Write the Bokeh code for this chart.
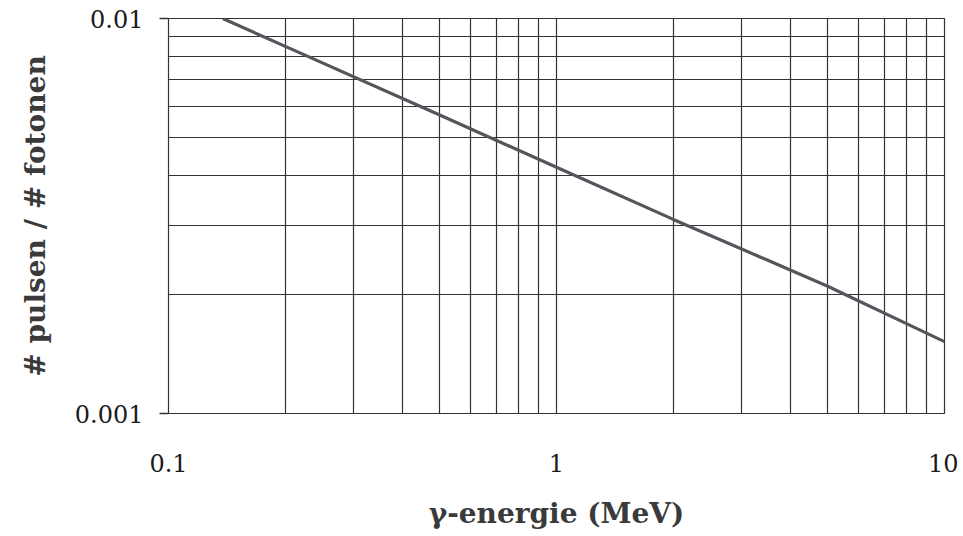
from bokeh.plotting import figure
from bokeh.models import FixedTicker, CustomJSTickFormatter
from bokeh.embed import file_html
from bokeh.resources import INLINE

# data
energy_mev = [0.138, 0.2, 0.5, 1, 2, 5, 10]
ratio = [0.01, 0.0085, 0.0057, 0.0042, 0.0031, 0.0021, 0.00152]

x_major = [0.1, 1, 10]
y_major = [0.001, 0.01]
x_grid = [0.1, 0.2, 0.3, 0.4, 0.5, 0.6, 0.7, 0.8, 0.9,
          1, 2, 3, 4, 5, 6, 7, 8, 9, 10]
y_grid = [0.001, 0.002, 0.003, 0.004, 0.005, 0.006, 0.007, 0.008, 0.009, 0.01]

grid_col = "#333333"

p = figure(width=958, height=532, x_axis_type="log", y_axis_type="log",
           x_range=(0.1, 10), y_range=(0.001, 0.01),
           output_backend="svg", toolbar_location=None,
           min_border_left=168, min_border_top=18, min_border_right=14,
           min_border_bottom=117)
p.outline_line_color = grid_col
p.outline_line_width = 1.2
p.background_fill_color = "white"

for g, t in ((p.xgrid, x_grid), (p.ygrid, y_grid)):
    g.ticker = FixedTicker(ticks=t)
    g.grid_line_color = grid_col
    g.grid_line_width = 1.2
    g.grid_line_alpha = 1.0

fmt = CustomJSTickFormatter(code="return tick.toString();")

p.xaxis.ticker = FixedTicker(ticks=x_major, minor_ticks=[])
p.yaxis.ticker = FixedTicker(ticks=y_major, minor_ticks=[])
for ax in (p.xaxis, p.yaxis):
    ax.formatter = fmt
    ax.axis_line_color = None
    ax.minor_tick_line_color = None
    ax.major_label_text_font = "DejaVu Serif"
    ax.major_label_text_font_size = "24px"
    ax.major_label_text_color = "#1a1a1a"
    ax.axis_label_text_font = "DejaVu Serif"
    ax.axis_label_text_font_style = "bold"
    ax.axis_label_text_font_size = "28px"
    ax.axis_label_text_color = "#3a3a3a"

p.xaxis.major_tick_line_color = None
p.xaxis.major_tick_out = 0
p.xaxis.major_tick_in = 0
p.xaxis.major_label_standoff = 40
p.xaxis.axis_label = "γ-energie (MeV)"
p.xaxis.axis_label_standoff = 22

p.yaxis.major_tick_line_color = grid_col
p.yaxis.major_tick_line_width = 1.5
p.yaxis.major_tick_out = 9
p.yaxis.major_tick_in = 0
p.yaxis.major_label_standoff = 16
p.yaxis.axis_label = "# pulsen / # fotonen"
p.yaxis.axis_label_standoff = 20

p.line(energy_mev, ratio, line_color="#55555c", line_width=3.2)

open("out.html", "w").write(file_html(p, INLINE))
